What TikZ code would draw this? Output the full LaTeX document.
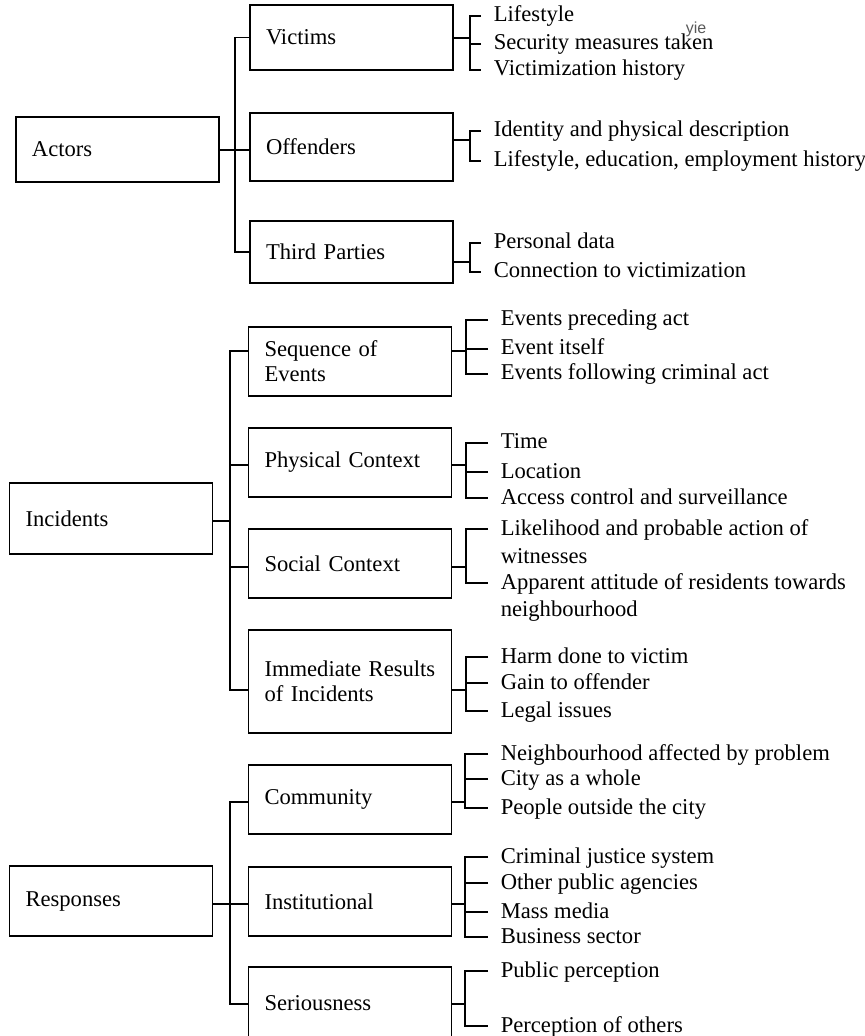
\documentclass[tikz,border=0pt]{standalone}
\usepackage{fontspec}
\setmainfont{Liberation Serif}
\setsansfont{Liberation Sans}
\usetikzlibrary{positioning}

\begin{document}
\begin{tikzpicture}[
  x=0.5pt, y=-0.5pt,
  font=\fontsize{11.3}{12.5}\selectfont,
  line width=0.8pt,
  box/.style={rectangle, draw=black, inner xsep=8pt, inner ysep=0pt, text width=85.5pt, align=left, minimum height=#1},
  box/.default=34.5pt,
  item/.style={anchor=west, inner xsep=6pt, inner ysep=0pt, text height=8.5pt, text depth=2.5pt},
  link/.style={draw=black, line width=0.8pt}
]

\useasboundingbox (0,0) rectangle (864,1036);
\clip (0,0) rectangle (864,1036);

\coordinate (ta) at (235,0);
\coordinate (ti) at (230,0);
\coordinate (ba) at (470,0);
\coordinate (bi) at (466,0);
\coordinate (br) at (465,0);

\node[box=32.5pt] (act) at (117.5,149.5) {Actors};
\node[box=32.5pt] (vic) at (351.5,37.5) {Victims};
\node[box=34pt] (off) at (351.5,147) {Offenders};
\node[box=31pt] (thi) at (351.5,252) {Third Parties};

\node[box=35.5pt] (inc) at (111,518.5) {Incidents};
\node[box] (seq) at (350,361.5) {Sequence of\\Events};
\node[box] (phy) at (350,462.5) {Physical Context};
\node[box] (soc) at (350,563.5) {Social Context};
\node[box=51.5pt] (imm) at (350,681.5) {Immediate Results\\of Incidents};

\node[box=35pt] (res) at (111,901) {Responses};
\node[box] (com) at (350,799.5) {Community};
\node[box] (ins) at (350,901.5) {Institutional};
\node[box=36pt] (ser) at (350,1003) {Seriousness};

\node[item] (v1) at (481,16) {Lifestyle};
\node[item] (v2) at (481,44) {Security measures taken};
\node[item] (v3) at (481,70) {Victimization history};
\node[item] (o1) at (481,131) {Identity and physical description};
\node[item] (o2) at (481,161) {Lifestyle, education, employment history};
\node[item] (t1) at (481,243) {Personal data};
\node[item] (t2) at (481,272) {Connection to victimization};

\node[item] (e1) at (488,320) {Events preceding act};
\node[item] (e2) at (488,349) {Event itself};
\node[item] (e3) at (488,374) {Events following criminal act};
\node[item] (p1) at (488,443) {Time};
\node[item] (p2) at (488,472) {Location};
\node[item] (p3) at (488,498) {Access control and surveillance};
\node[item] (s1) at (488,529) {Likelihood and probable action of};
\node[item] (s1w) at (488,557) {witnesses};
\node[item] (s2) at (488,583) {Apparent attitude of residents towards};
\node[item] (s2w) at (488,610) {neighbourhood};
\node[item] (m1) at (488,657) {Harm done to victim};
\node[item] (m2) at (488,683) {Gain to offender};
\node[item] (m3) at (488,711) {Legal issues};

\node[item] (c1) at (488,754) {Neighbourhood affected by problem};
\node[item] (c2) at (488,779) {City as a whole};
\node[item] (c3) at (488,808) {People outside the city};
\node[item] (n1) at (488,857) {Criminal justice system};
\node[item] (n2) at (488,883) {Other public agencies};
\node[item] (n3) at (488,912) {Mass media};
\node[item] (n4) at (488,937) {Business sector};
\node[item] (r1) at (488,971) {Public perception};
\node[item] (r2) at (488,1026) {Perception of others};

\node[font=\sffamily\fontsize{8}{8}\selectfont, text=black!65, inner sep=0pt] (yie) at (696,29) {yie};

\draw[link] (act.east |- 0,150) -- (ta |- 0,150);
\draw[link] (vic.west) -- (vic.west -| ta) -- (thi.west -| ta) -- (thi.west);
\draw[link] (off.west |- 0,150) -- (ta |- 0,150);

\draw[link] (vic.east |- 0,38) -- (ba |- 0,38);
\draw[link] (v1.west) -- (v1.west -| ba) -- (v3.west -| ba) -- (v3.west);
\draw[link] (v2.west) -- (v2.west -| ba);
\draw[link] (off.east |- 0,140) -- (ba |- 0,140);
\draw[link] (o1.west) -- (o1.west -| ba) -- (o2.west -| ba) -- (o2.west);
\draw[link] (thi.east |- 0,262) -- (ba |- 0,262);
\draw[link] (t1.west) -- (t1.west -| ba) -- (t2.west -| ba) -- (t2.west);

\draw[link] (inc.east |- 0,521) -- (ti |- 0,521);
\draw[link] (seq.west |- 0,351) -- (ti |- 0,351) -- (ti |- 0,690) -- (imm.west |- 0,690);
\draw[link] (phy.west |- 0,465) -- (ti |- 0,465);
\draw[link] (soc.west |- 0,567) -- (ti |- 0,567);

\draw[link] (seq.east |- 0,351) -- (bi |- 0,351);
\draw[link] (e1.west) -- (e1.west -| bi) -- (e3.west -| bi) -- (e3.west);
\draw[link] (e2.west) -- (e2.west -| bi);
\draw[link] (phy.east |- 0,465) -- (bi |- 0,465);
\draw[link] (p1.west) -- (p1.west -| bi) -- (p3.west -| bi) -- (p3.west);
\draw[link] (p2.west) -- (p2.west -| bi);
\draw[link] (soc.east |- 0,567) -- (bi |- 0,567);
\draw[link] (s1.west) -- (s1.west -| bi) -- (s2.west -| bi) -- (s2.west);
\draw[link] (imm.east |- 0,690) -- (bi |- 0,690);
\draw[link] (m1.west) -- (m1.west -| bi) -- (m3.west -| bi) -- (m3.west);
\draw[link] (m2.west) -- (m2.west -| bi);

\draw[link] (res.east |- 0,904) -- (ti |- 0,904);
\draw[link] (com.west |- 0,802) -- (ti |- 0,802) -- (ti |- 0,1004) -- (ser.west |- 0,1004);
\draw[link] (ins.west |- 0,904) -- (ti |- 0,904);

\draw[link] (com.east |- 0,802) -- (br |- 0,802);
\draw[link] (c1.west) -- (c1.west -| br) -- (c3.west -| br) -- (c3.west);
\draw[link] (c2.west) -- (c2.west -| br);
\draw[link] (ins.east |- 0,904) -- (br |- 0,904);
\draw[link] (n1.west) -- (n1.west -| br) -- (n4.west -| br) -- (n4.west);
\draw[link] (n2.west) -- (n2.west -| br);
\draw[link] (n3.west) -- (n3.west -| br);
\draw[link] (ser.east |- 0,1004) -- (br |- 0,1004);
\draw[link] (r1.west) -- (r1.west -| br) -- (r2.west -| br) -- (r2.west);

\end{tikzpicture}
\end{document}
